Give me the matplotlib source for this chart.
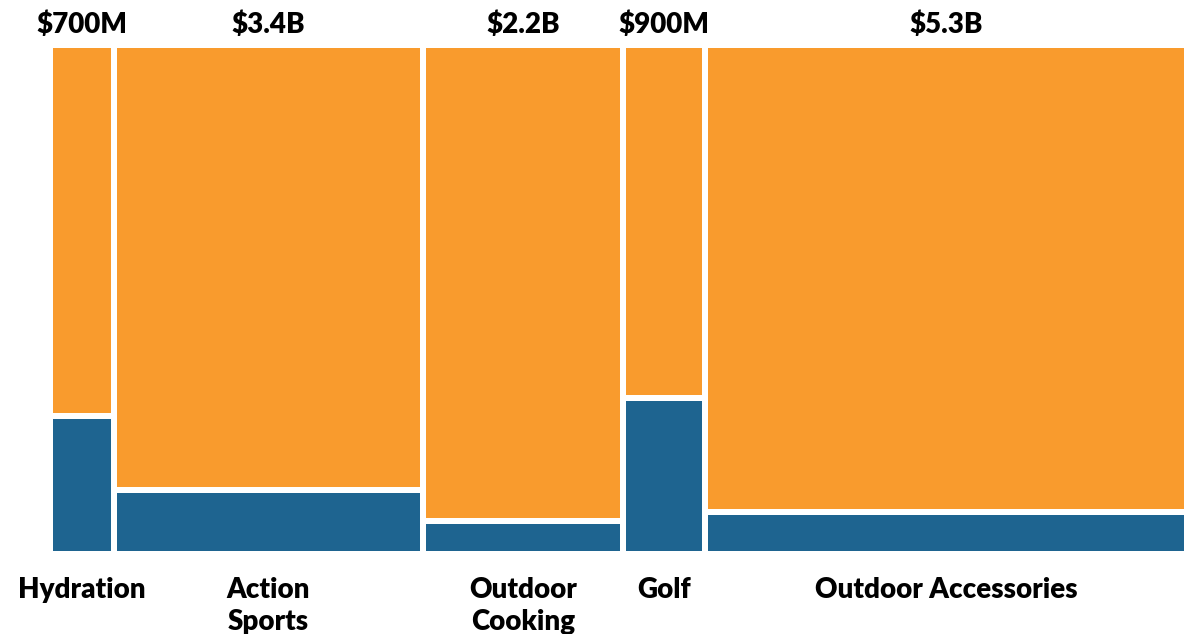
import matplotlib
matplotlib.use("Agg")
import matplotlib.pyplot as plt
import matplotlib.transforms as mtransforms
import numpy as np

# ---- data ----
categories = ["Hydration", "Action\nSports", "Outdoor\nCooking", "Golf", "Outdoor Accessories"]
market_size_b = [0.7, 3.4, 2.2, 0.9, 5.3]          # $B, column widths
size_labels = ["$700M", "$3.4B", "$2.2B", "$900M", "$5.3B"]
blue_share = [0.272, 0.125, 0.065, 0.306, 0.083]     # bottom segment share

ORANGE = "#F99B2D"
BLUE = "#1E6490"

W, H, DPI = 1184, 634, 100
fig = plt.figure(figsize=(W / DPI, H / DPI), dpi=DPI)
left_px, right_px, top_px, bot_px = 50, 1187, 45, 554
ax = fig.add_axes([left_px / W, (H - bot_px) / H, (right_px - left_px) / W, (bot_px - top_px) / H])

widths = np.array(market_size_b)
lefts = np.concatenate([[0], np.cumsum(widths)[:-1]])
centers = lefts + widths / 2
blue = np.array(blue_share)
orange = 1 - blue

lw = 6 * 72 / DPI
ax.bar(lefts, blue, width=widths, align="edge", color=BLUE, edgecolor="white", linewidth=lw)
ax.bar(lefts, orange, bottom=blue, width=widths, align="edge", color=ORANGE, edgecolor="white", linewidth=lw)

ax.set_xlim(0, widths.sum())
ax.set_ylim(0, 1)
ax.axis("off")

font = "Lato"
weight = "heavy"
trans = mtransforms.blended_transform_factory(ax.transData, fig.transFigure)
for c, lab in zip(centers, size_labels):
    ax.text(c, (H - 33) / H, lab, transform=trans, ha="center", va="baseline",
            fontsize=20, fontweight=weight, family=font, color="black")
for c, cat in zip(centers, categories):
    ax.text(c, (H - 577) / H, cat, transform=trans, ha="center", va="top",
            fontsize=20, fontweight=weight, family=font, color="black", linespacing=1.3)

fig.savefig("out.png", dpi=DPI)
